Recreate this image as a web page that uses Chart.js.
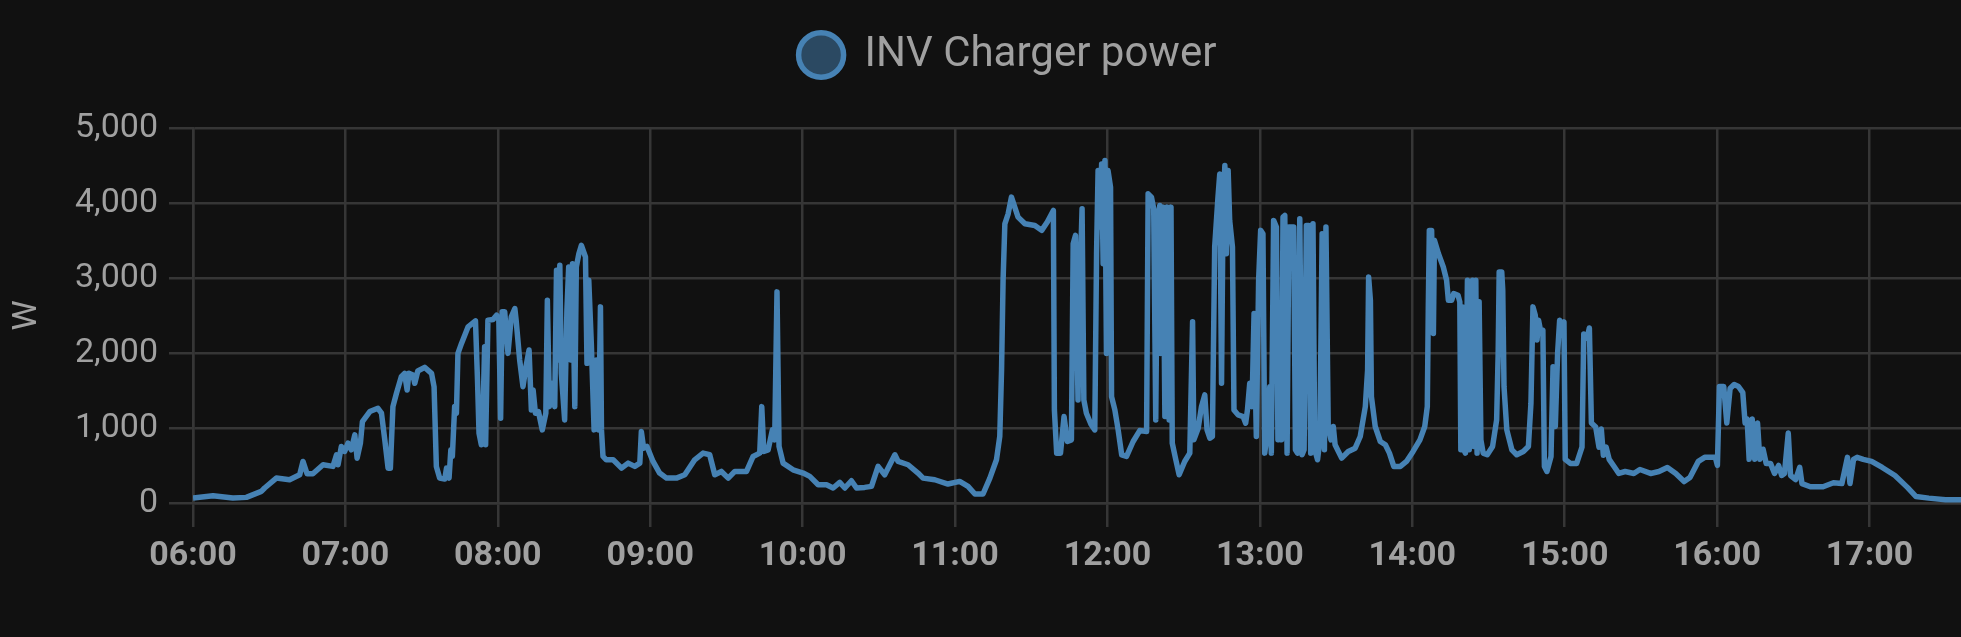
<!DOCTYPE html>
<html>
<head>
<meta charset="utf-8">
<script src="https://cdn.jsdelivr.net/npm/chart.js@4/dist/chart.umd.min.js"></script>
<style>
  html, body { margin: 0; padding: 0; background: #111111; }
  #wrap { width: 1961px; height: 637px; position: relative; }
</style>
</head>
<body>
<div id="wrap"><canvas id="chartPower"></canvas></div>
<script>
// ===== DATOS =====
const yTicks = [0, 1000, 2000, 3000, 4000, 5000];
const xTickHours = ['06:00', '07:00', '08:00', '09:00', '10:00', '11:00', '12:00', '13:00', '14:00', '15:00', '16:00', '17:00'];

// minutos desde las 06:00
const minutes = [
  0, 7.9, 15.7, 21, 26.9, 28.2, 32.8, 38, 42, 43.3,
  44.9, 47.2, 51.2, 55.1, 56.5, 57.1, 58.4, 59.7, 61, 62.3,
  63.7, 64.6, 65.9, 66.7, 69.6, 72.8, 74.2, 75.5, 76.8, 77.7,
  78.7, 80.1, 82, 83.3, 84.3, 85, 86.6, 87.3, 88.5, 91.2,
  93.9, 94.9, 95.8, 97.1, 99.1, 99.8, 100.8, 101.5, 102.1, 103,
  103.7, 104.3, 105.7, 108.3, 111.2, 112, 112.6, 113.5, 114.2, 114.8,
  115.2, 116.1, 118.1, 119.5, 120.4, 121.1, 121.7, 122.7, 124, 125.3,
  126.7, 127.2, 128.6, 129.9, 131.2, 132.3, 133.2, 133.9, 134.8, 136,
  137.5, 138.9, 139.5, 140.3, 141.1, 142.4, 143.1, 143.7, 144.4, 145,
  146.3, 147.2, 147.9, 148.7, 149.4, 150.3, 150.9, 151.9, 152.9, 154.5,
  155.1, 155.8, 156.8, 157.9, 158.8, 159.7, 160.4, 160.8, 161.4, 162.7,
  165.4, 168.7, 171.3, 173.9, 175.9, 176.5, 177.4, 178.7, 181.1, 183.7,
  186.4, 190.3, 193.6, 197.5, 200.8, 203.4, 205.4, 208, 210.7, 213.3,
  217.9, 220.5, 223.1, 223.9, 224.7, 226.4, 228.1, 229, 229.9, 230.7,
  232.3, 236.2, 240.2, 242.8, 246.1, 249.4, 252, 254.6, 256.6, 259.2,
  261.2, 264.4, 267.1, 269.7, 272.3, 276.3, 277.6, 281.5, 285.4, 287.4,
  292, 297.2, 301.8, 305.1, 307.8, 311, 313.7, 316.3, 317.6, 318.3,
  318.9, 319.6, 320.9, 322.2, 324.8, 327.5, 331.4, 334.1, 336.3, 338.7,
  339.1, 340, 341.5, 342.9, 344.2, 345.8, 346.5, 347.4, 348.4, 349.1,
  350, 350.7, 351.7, 353.5, 355, 355.7, 356.3, 357, 357.7, 358.3,
  359, 359.6, 360.2, 361.2, 361.6, 362.9, 364.2, 365.6, 367.5, 370.1,
  372.7, 375.4, 376, 377.3, 378.2, 379, 379.7, 380.6, 381, 381.9,
  382.6, 383.5, 384.3, 385, 385.5, 386.9, 388.2, 390.4, 392.4, 393.5,
  394, 395.7, 397, 398.3, 399.2, 400.3, 401.3, 402.2, 403.5, 404.2,
  404.9, 405.5, 406.2, 406.8, 407.5, 408.1, 409.2, 409.8, 411.4, 413.4,
  414.4, 415.1, 416, 416.9, 417.7, 418.6, 419.5, 420.3, 421.2, 421.9,
  422.9, 423.9, 424.5, 425.4, 426.5, 427.1, 427.8, 428.5, 429.1, 429.8,
  430.7, 431.4, 432.4, 433.3, 434, 434.8, 435.7, 436.6, 437.4, 438.3,
  439.2, 440, 440.9, 441.6, 442.7, 443.6, 444.5, 445.4, 446, 446.9,
  448, 448.9, 449.6, 452.2, 454.8, 457.5, 459.5, 461.5, 462.4, 462.8,
  463.5, 463.9, 465.4, 467.4, 469.4, 471, 472.7, 475.3, 477.7, 480.3,
  483, 484.9, 485.9, 486.3, 486.7, 487.6, 488.3, 488.7, 490.3, 492.2,
  493.5, 494.2, 495.5, 496.3, 498, 498.7, 499.1, 499.8, 500.3, 500.9,
  501.7, 502.4, 503, 503.7, 504.2, 505, 505.5, 506.3, 507, 507.9,
  509.5, 511.6, 513.2, 513.8, 514.2, 515.2, 515.6, 516.1, 517.2, 519.2,
  521.1, 523.7, 525.7, 526.7, 527.5, 528.4, 529.1, 529.7, 530.7, 531.4,
  532, 533, 534.6, 535.4, 536.3, 537.2, 538, 538.9, 539.7, 540.2,
  542.2, 544.7, 546.8, 547.5, 548.8, 549.7, 550.5, 552.2, 553.5, 554.4,
  555.2, 556.3, 557.5, 559.7, 561.3, 563.8, 567.2, 569.6, 573.8, 577.1,
  580.4, 583.7, 587, 589.3, 592.6, 595.1, 599.3, 600.1, 600.9, 602.6,
  603.8, 605.1, 606.7, 608.4, 610.1, 611, 611.8, 612.6, 613.8, 614.8,
  615.9, 616.8, 618.1, 619.3, 621, 622.6, 624.2, 625.4, 626.5, 628,
  628.9, 630.9, 632.5, 633.4, 636.7, 641.7, 645.8, 649.1, 651.3, 652.3,
  653.7, 655.1, 657.5, 660.8, 665, 670, 675, 678.3, 683.3, 689.9,
  696.2
];

// potencia del cargador (W)
const watts = [
  66, 97, 66, 75, 155, 200, 332, 310, 377, 554,
  390, 390, 510, 488, 643, 510, 754, 687, 798, 709,
  909, 598, 798, 1086, 1219, 1263, 1197, 842, 465, 465,
  1285, 1463, 1684, 1729, 1507, 1729, 1706, 1596, 1760, 1808,
  1729, 1551, 488, 332, 319, 465, 332, 709, 621, 1285,
  1197, 1995, 2128, 2349, 2429, 1640, 931, 776, 1241, 2083,
  776, 2438, 2447, 2504, 2438, 1130, 2549, 2549, 1995, 2482,
  2593, 2438, 1906, 1551, 1840, 2039, 1241, 1507, 1197, 1219,
  975, 1197, 2704, 1285, 1596, 1285, 3103, 1906, 3169, 1729,
  1108, 2571, 3147, 1906, 3191, 1285, 3147, 3324, 3435, 3280,
  1862, 2970, 2128, 975, 1906, 975, 2615, 975, 621, 576,
  576, 465, 532, 488, 532, 953, 731, 754, 554, 399,
  332, 332, 377, 576, 665, 643, 377, 421, 332, 421,
  421, 621, 665, 1285, 687, 709, 975, 842, 2815, 754,
  532, 443, 399, 355, 244, 244, 200, 275, 200, 297,
  200, 208, 222, 488, 377, 643, 554, 510, 399, 332,
  310, 253, 288, 222, 120, 120, 332, 576, 887, 1773,
  2970, 3723, 3856, 4078, 3812, 3723, 3701, 3635, 3746, 3901,
  1241, 665, 665, 1152, 820, 842, 3457, 3568, 1374, 2881,
  3923, 1374, 1197, 1050, 975, 3324, 4433, 3679, 4521, 3191,
  4566, 1995, 4433, 4211, 1418, 1241, 975, 643, 621, 820,
  966, 953, 4122, 4078, 3923, 1108, 3768, 3967, 1995, 3945,
  1152, 3945, 1108, 3945, 798, 576, 377, 554, 665, 2416,
  842, 997, 1285, 1441, 975, 864, 887, 3413, 4078, 4388,
  1596, 3945, 4499, 3324, 4433, 3768, 3413, 1241, 1175, 1152,
  1064, 1241, 1596, 1285, 2527, 887, 2970, 3635, 3590, 665,
  931, 1551, 665, 3768, 3679, 842, 1551, 842, 3812, 3834,
  665, 3679, 3679, 3679, 709, 665, 3790, 643, 709, 3701,
  3701, 665, 3723, 709, 576, 842, 3590, 709, 3679, 1020,
  842, 1020, 776, 598, 687, 731, 887, 1285, 1773, 3014,
  2704, 1418, 1020, 820, 776, 665, 488, 488, 554, 687,
  842, 1020, 1285, 2615, 3635, 3635, 2261, 3502, 3324, 3147,
  2970, 2704, 2704, 2793, 2770, 2682, 709, 2615, 709, 665,
  2970, 709, 2438, 2970, 754, 2970, 665, 2682, 842, 665,
  643, 754, 1108, 1995, 3081, 3081, 2837, 1551, 975, 709,
  643, 687, 754, 1330, 2615, 2504, 2172, 2438, 2261, 2305,
  488, 421, 621, 1817, 1020, 1995, 2438, 2361, 2415, 582,
  528, 528, 744, 2253, 2199, 2334, 1067, 1013, 744, 987,
  636, 744, 582, 474, 394, 420, 394, 447, 394, 420,
  474, 394, 286, 340, 555, 609, 609, 501, 1553, 1553,
  1067, 1526, 1580, 1553, 1472, 1067, 1121, 582, 1121, 582,
  1067, 582, 717, 528, 528, 394, 501, 367, 394, 933,
  367, 313, 474, 259, 216, 216, 270, 259, 609, 259,
  582, 609, 582, 555, 474, 367, 205, 86, 65, 43,
  43
];

// la captura corta el gráfico por la derecha
const axisMax = 696;
const gridColor = '#363636';
const textColor = '#a0a0a0';
const lineColor = '#4682b4';

// leyenda: más espacio debajo y centrada sobre el gráfico completo (recortado)
const legendTweak = {
  id: 'legendTweak',
  beforeInit(chart) {
    const fit = chart.legend.fit;
    chart.legend.fit = function () {
      fit.bind(chart.legend)();
      this.height += 42;
    };
  },
  afterLayout(chart) {
    chart.legend.left += 27;
    chart.legend.right += 27;
  }
};

const ctx = document.getElementById('chartPower').getContext('2d');
const chartPower = new Chart(ctx, {
  type: 'line',
  data: {
    datasets: [{
      label: 'INV Charger power',
      data: minutes.map((t, i) => ({ x: t, y: watts[i] })),
      borderColor: lineColor,
      backgroundColor: 'rgba(70,130,180,0.5)',
      borderWidth: 5.5,
      pointRadius: 0,
      tension: 0,
      borderJoinStyle: 'round',
      fill: false
    }]
  },
  options: {
    responsive: true,
    maintainAspectRatio: false,
    animation: false,
    devicePixelRatio: 1,
    layout: { padding: { top: 24, left: 0, right: 0, bottom: 0 } },
    plugins: {
      legend: {
        position: 'top',
        labels: {
          usePointStyle: true,
          pointStyle: 'circle',
          boxHeight: 31.5,
          pointStyleWidth: 45,
          padding: 10,
          color: textColor,
          font: { family: 'Roboto', size: 42 }
        }
      },
      tooltip: { enabled: false }
    },
    scales: {
      x: {
        type: 'linear',
        min: 0,
        max: axisMax,
        afterFit: s => { s.height = 134; },
        afterBuildTicks: s => { s.ticks = xTickHours.map((h, i) => ({ value: i * 60 })); },
        grid: { color: gridColor, lineWidth: 2.5, tickLength: 24 },
        border: { color: gridColor, width: 2.5 },
        ticks: {
          padding: 9,
          maxRotation: 0,
          autoSkip: false,
          color: textColor,
          font: { family: 'Roboto', size: 34, weight: 'bold' },
          callback: v => xTickHours[Math.round(v / 60)]
        }
      },
      y: {
        min: yTicks[0],
        max: yTicks[yTicks.length - 1],
        afterFit: s => { s.width = 193; },
        grid: { color: gridColor, lineWidth: 2.5, tickLength: 24 },
        border: { color: gridColor, width: 2.5 },
        title: {
          display: true,
          text: 'W',
          color: textColor,
          padding: { top: 7, bottom: 0 },
          font: { family: 'Roboto', size: 34 }
        },
        ticks: {
          stepSize: 1000,
          padding: 11,
          color: textColor,
          font: { family: 'Roboto', size: 34 },
          callback: v => v.toLocaleString('en-US')
        }
      }
    }
  },
  plugins: [legendTweak]
});
</script>
</body>
</html>
